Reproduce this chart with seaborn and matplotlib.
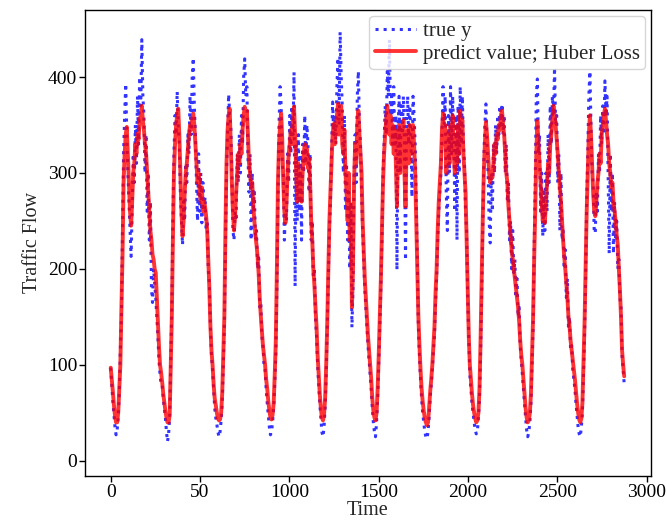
import numpy as np
import pandas as pd
import matplotlib
matplotlib.use("Agg")
import matplotlib.pyplot as plt
import seaborn as sns

# sampling step of the readings (5-min steps, one reading every 6 steps)
STEP = 6

true_day0 = [97, 80, 62, 48, 35, 27, 32, 45, 70, 115, 150, 240, 320, 360, 393, 340,
             300, 270, 240, 213, 260, 320, 290, 350, 310, 380, 330, 400, 370, 439, 380, 360,
             300, 340, 260, 300, 230, 270, 180, 165, 200, 185, 170, 150, 130, 105, 90, 80]
true_day1 = [80, 65, 55, 45, 30, 20, 28, 45, 100, 160, 250, 320, 360, 340, 385, 350,
             330, 280, 250, 225, 270, 250, 310, 290, 340, 320, 380, 340, 400, 420, 370, 340,
             290, 250, 320, 260, 300, 248, 290, 260, 275, 240, 250, 200, 185, 140, 110, 95]
true_day2 = [75, 55, 45, 38, 30, 25, 30, 42, 60, 100, 140, 220, 300, 340, 382, 360,
             350, 300, 240, 230, 260, 250, 320, 290, 340, 300, 360, 330, 400, 419, 380, 390,
             320, 280, 320, 230, 300, 260, 280, 230, 240, 200, 215, 160, 165, 130, 120, 100]
true_day3 = [95, 75, 60, 48, 35, 27, 30, 40, 55, 80, 110, 180, 270, 350, 390, 370,
             310, 300, 230, 260, 250, 320, 290, 360, 320, 370, 340, 405, 182, 330, 250, 340,
             260, 320, 230, 330, 300, 360, 310, 350, 330, 280, 320, 230, 250, 190, 200, 150]
true_day4 = [130, 100, 80, 60, 45, 30, 25, 35, 55, 90, 140, 190, 240, 270, 320, 374,
             340, 360, 330, 390, 420, 350, 447, 400, 370, 300, 360, 260, 310, 230, 280, 200,
             270, 139, 180, 300, 340, 290, 380, 406, 350, 330, 280, 240, 210, 180, 160, 140]
true_day5 = [120, 105, 90, 75, 55, 40, 30, 25, 40, 65, 100, 140, 180, 230, 300, 330,
             370, 340, 406, 380, 439, 360, 380, 330, 390, 330, 360, 199, 340, 380, 300, 370,
             340, 380, 330, 209, 360, 380, 330, 370, 340, 275, 380, 360, 330, 270, 210, 140]
true_day6 = [110, 85, 65, 50, 40, 30, 25, 23, 30, 45, 65, 80, 95, 115, 130, 165,
             190, 230, 260, 280, 300, 340, 390, 350, 380, 280, 240, 360, 300, 390, 320, 380,
             340, 260, 360, 230, 370, 300, 390, 330, 380, 330, 310, 260, 240, 170, 130, 90]
true_day7 = [75, 60, 50, 40, 32, 28, 30, 45, 65, 110, 170, 240, 310, 350, 372, 330,
             300, 250, 227, 300, 260, 330, 300, 350, 320, 360, 340, 370, 350, 372, 340, 360,
             300, 330, 270, 290, 230, 250, 200, 240, 196, 210, 170, 190, 150, 160, 120, 105]
true_day8 = [90, 75, 60, 45, 32, 25, 30, 40, 60, 100, 140, 220, 290, 380, 398, 320,
             340, 260, 300, 234, 280, 240, 300, 260, 340, 290, 370, 330, 380, 360, 410, 350,
             360, 290, 320, 240, 300, 230, 240, 200, 220, 170, 190, 140, 150, 115, 120, 95]
true_day9 = [85, 75, 60, 48, 35, 28, 25, 35, 50, 90, 130, 190, 270, 320, 380, 406,
             350, 300, 290, 240, 237, 280, 260, 320, 300, 360, 330, 370, 340, 396, 360, 380,
             300, 216, 320, 260, 300, 216, 270, 230, 250, 200, 210, 170, 160, 110, 95, 80]

pred_day0 = [97, 85, 72, 58, 47, 40, 40, 50, 75, 100, 160, 213, 290, 320, 340, 348,
             320, 290, 260, 245, 270, 300, 310, 330, 320, 341, 335, 355, 360, 370, 355, 345,
             330, 320, 300, 280, 260, 240, 230, 215, 210, 200, 196, 170, 144, 120, 100, 92]
pred_day1 = [82, 70, 61, 52, 45, 40, 40, 48, 100, 150, 230, 300, 330, 350, 360, 367,
             340, 300, 260, 234, 250, 280, 300, 310, 325, 340, 350, 345, 355, 362, 350, 330,
             310, 290, 300, 280, 270, 285, 260, 270, 265, 255, 240, 210, 180, 140, 115, 100]
pred_day2 = [80, 65, 58, 50, 44, 42, 43, 50, 70, 110, 150, 240, 310, 345, 360, 367,
             330, 290, 260, 240, 255, 280, 300, 320, 310, 330, 320, 345, 360, 369, 355, 365,
             340, 310, 300, 285, 290, 265, 250, 235, 225, 213, 195, 170, 151, 135, 120, 110]
pred_day3 = [100, 85, 75, 62, 52, 45, 43, 48, 60, 90, 125, 200, 290, 330, 350, 362,
             335, 290, 260, 248, 270, 300, 320, 330, 345, 330, 360, 369, 340, 300, 270, 310,
             280, 300, 270, 300, 320, 330, 310, 325, 305, 315, 290, 250, 230, 200, 183, 160]
pred_day4 = [140, 110, 90, 70, 55, 45, 42, 48, 65, 100, 144, 200, 250, 282, 310, 340,
             351, 330, 345, 360, 372, 340, 355, 370, 330, 320, 345, 300, 280, 250, 300, 230,
             260, 160, 200, 290, 330, 310, 350, 365, 340, 320, 300, 250, 220, 190, 170, 150]
pred_day5 = [130, 115, 100, 85, 65, 52, 45, 42, 50, 75, 110, 150, 190, 240, 290, 320,
             340, 355, 370, 350, 340, 360, 330, 350, 320, 345, 310, 265, 330, 350, 300, 340,
             320, 355, 300, 265, 330, 345, 310, 350, 320, 340, 350, 330, 300, 250, 200, 150]
pred_day6 = [120, 95, 75, 62, 52, 44, 40, 37, 40, 55, 72, 85, 100, 120, 140, 175,
             200, 240, 270, 290, 310, 345, 362, 330, 350, 300, 320, 340, 310, 350, 330, 360,
             320, 300, 340, 310, 350, 320, 365, 340, 355, 320, 300, 280, 230, 180, 130, 100]
pred_day7 = [85, 70, 58, 50, 44, 40, 42, 50, 75, 126, 190, 250, 300, 330, 353, 340,
             320, 300, 290, 300, 295, 310, 330, 320, 340, 335, 350, 345, 360, 365, 350, 340,
             320, 300, 290, 265, 250, 235, 220, 210, 200, 190, 180, 170, 160, 145, 125, 110]
pred_day8 = [100, 85, 70, 55, 45, 40, 42, 50, 70, 110, 150, 210, 260, 320, 354, 330,
             310, 290, 270, 250, 260, 248, 270, 290, 310, 300, 330, 340, 355, 370, 360, 350,
             335, 320, 300, 285, 270, 250, 230, 213, 200, 185, 170, 150, 140, 125, 115, 105]
pred_day9 = [95, 85, 72, 60, 50, 43, 40, 44, 60, 100, 144, 200, 260, 300, 340, 360,
             340, 310, 280, 260, 255, 270, 290, 300, 320, 310, 340, 350, 360, 367, 355, 340,
             330, 310, 300, 285, 290, 270, 260, 250, 235, 225, 200, 178, 150, 115, 100, 88]

x_ticks = [0, 500, 1000, 1500, 2000, 2500, 3000]
x_tick_labels = ["0", "50", "1000", "1500", "2000", "2500", "3000"]
y_ticks = [0, 100, 200, 300, 400]

true_y = np.concatenate([true_day0, true_day1, true_day2, true_day3, true_day4,
                         true_day5, true_day6, true_day7, true_day8, true_day9])
pred_y = np.concatenate([pred_day0, pred_day1, pred_day2, pred_day3, pred_day4,
                         pred_day5, pred_day6, pred_day7, pred_day8, pred_day9])
time = np.arange(len(true_y)) * STEP

df = pd.DataFrame({"Time": time, "true": true_y, "pred": pred_y})

sns.set_style("ticks")
plt.rcParams["font.family"] = ["Liberation Serif", "DejaVu Serif"]

fig = plt.figure(figsize=(6.66, 5.22), dpi=100)
ax = fig.add_axes([0.1276, 0.088, 0.8499, 0.893])

sns.lineplot(data=df, x="Time", y="true", ax=ax, color="blue", linestyle=":",
             linewidth=2.2, alpha=0.8, label="true y")
sns.lineplot(data=df, x="Time", y="pred", ax=ax, color="red", linestyle="-",
             linewidth=2.8, alpha=0.8, label="predict value; Huber Loss")

ax.set_xlim(-144, 3024)
ax.set_ylim(-16, 470)
ax.set_xticks(x_ticks)
ax.set_xticklabels(x_tick_labels)
ax.set_yticks(y_ticks)
ax.tick_params(axis="both", labelsize=14, length=4, width=1, direction="out",
               colors="black", pad=1.5)
for s in ax.spines.values():
    s.set_visible(True)
    s.set_color("black")
    s.set_linewidth(1.0)

ax.set_xlabel("Time", fontsize=14.5, labelpad=0.5)
ax.set_ylabel("Traffic Flow", fontsize=14.5, labelpad=4)

leg = ax.legend(loc="upper right", fontsize=15, frameon=True, framealpha=0.8,
                borderpad=0.25, labelspacing=0.15, handlelength=2.0, handletextpad=0.3,
                borderaxespad=0.3, fancybox=True)
leg.get_frame().set_edgecolor("#cccccc")

fig.savefig("out.png", dpi=100)
